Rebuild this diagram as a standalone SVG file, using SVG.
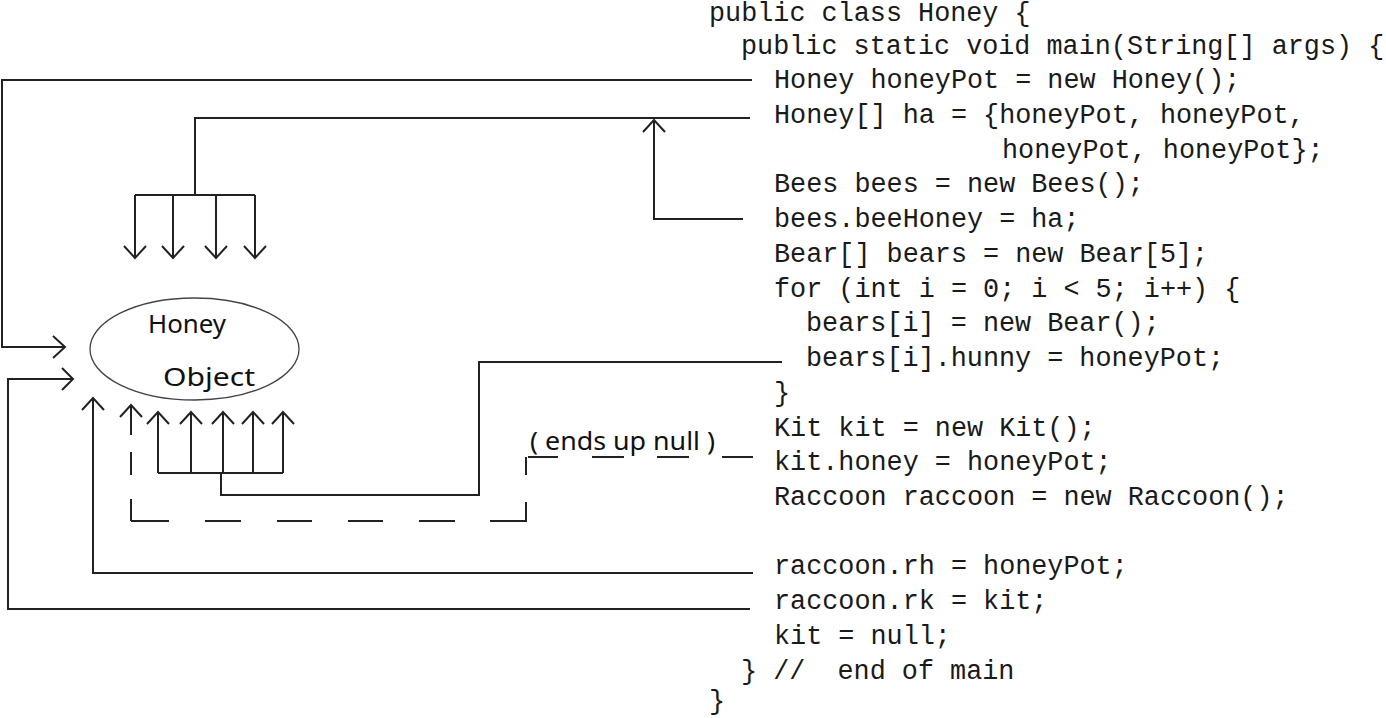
<svg xmlns="http://www.w3.org/2000/svg" width="1386" height="718" viewBox="0 0 1386 718">
<style>
.code{font-family:"Liberation Mono","Courier New",monospace;font-size:26.8px;fill:#1a1a1a}
.hand{font-family:"Comic Sans MS","Noto Sans",sans-serif;font-size:25px;fill:#111}
.ln{fill:none;stroke:#222;stroke-width:2}
</style>
<rect width="1386" height="718" fill="#fff"/>
<g id="code">
<text class="code" x="709" y="21">public class Honey {</text>
<text class="code" x="741" y="54">public static void main(String[] args) {</text>
<text class="code" x="774" y="88">Honey honeyPot = new Honey();</text>
<text class="code" x="774" y="123">Honey[] ha = {honeyPot, honeyPot,</text>
<text class="code" x="1002" y="158">honeyPot, honeyPot};</text>
<text class="code" x="774" y="192">Bees bees = new Bees();</text>
<text class="code" x="774" y="227">bees.beeHoney = ha;</text>
<text class="code" x="774" y="262">Bear[] bears = new Bear[5];</text>
<text class="code" x="774" y="297">for (int i = 0; i &lt; 5; i++) {</text>
<text class="code" x="806" y="331">bears[i] = new Bear();</text>
<text class="code" x="806" y="366">bears[i].hunny = honeyPot;</text>
<text class="code" x="774" y="401">}</text>
<text class="code" x="774" y="436">Kit kit = new Kit();</text>
<text class="code" x="774" y="470">kit.honey = honeyPot;</text>
<text class="code" x="774" y="505">Raccoon raccoon = new Raccoon();</text>
<text class="code" x="774" y="574">raccoon.rh = honeyPot;</text>
<text class="code" x="774" y="609">raccoon.rk = kit;</text>
<text class="code" x="774" y="644">kit = null;</text>
<text class="code" x="741" y="679" xml:space="preserve">} //  end of main</text>
<text class="code" x="709" y="709">}</text>
</g>
<g id="honey-object">
<ellipse cx="194.5" cy="349" rx="104.5" ry="51" fill="none" stroke="#444" stroke-width="1.3"/>
<text class="hand" x="148" y="333" textLength="78" lengthAdjust="spacingAndGlyphs">Honey</text>
<text class="hand" x="163" y="386" textLength="92" lengthAdjust="spacingAndGlyphs">Object</text>
</g>
<g id="label-null">
<text class="hand" x="530" y="450" textLength="185" lengthAdjust="spacingAndGlyphs">( ends up null )</text>
</g>
<g id="connectors">
<polyline class="ln" points="752,80 2,80 2,347 65,347"/>
<polyline class="ln" points="53,336 65,347 53,358"/>
<polyline class="ln" points="750,118 195,118 195,195"/>
<line class="ln" x1="135" y1="195" x2="255" y2="195"/>
<line class="ln" x1="135" y1="195" x2="135" y2="258"/>
<line class="ln" x1="173" y1="195" x2="173" y2="258"/>
<line class="ln" x1="216" y1="195" x2="216" y2="258"/>
<line class="ln" x1="255" y1="195" x2="255" y2="258"/>
<polyline class="ln" points="124,246 135,258 146,246"/>
<polyline class="ln" points="162,246 173,258 184,246"/>
<polyline class="ln" points="205,246 216,258 227,246"/>
<polyline class="ln" points="244,246 255,258 266,246"/>
<polyline class="ln" points="743,219 654,219 654,120"/>
<polyline class="ln" points="643,132 654,120 665,132"/>
<polyline class="ln" points="782,362 479,362 479,495 221,495 221,473"/>
<line class="ln" x1="158" y1="473" x2="283" y2="473"/>
<line class="ln" x1="158" y1="473" x2="158" y2="412"/>
<line class="ln" x1="191" y1="473" x2="191" y2="412"/>
<line class="ln" x1="223" y1="473" x2="223" y2="412"/>
<line class="ln" x1="253" y1="473" x2="253" y2="412"/>
<line class="ln" x1="283" y1="473" x2="283" y2="412"/>
<polyline class="ln" points="147,424 158,412 169,424"/>
<polyline class="ln" points="180,424 191,412 202,424"/>
<polyline class="ln" points="212,424 223,412 234,424"/>
<polyline class="ln" points="242,424 253,412 264,424"/>
<polyline class="ln" points="272,424 283,412 294,424"/>
<line class="ln" x1="528" y1="457" x2="558" y2="457"/>
<line class="ln" x1="592" y1="457" x2="624" y2="457"/>
<line class="ln" x1="657" y1="457" x2="689" y2="457"/>
<line class="ln" x1="722" y1="457" x2="753" y2="457"/>
<line class="ln" x1="526" y1="457" x2="526" y2="475"/>
<line class="ln" x1="526" y1="502" x2="526" y2="522"/>
<line class="ln" x1="131" y1="521" x2="169" y2="521"/>
<line class="ln" x1="205" y1="521" x2="241" y2="521"/>
<line class="ln" x1="277" y1="521" x2="312" y2="521"/>
<line class="ln" x1="348" y1="521" x2="383" y2="521"/>
<line class="ln" x1="419" y1="521" x2="455" y2="521"/>
<line class="ln" x1="490" y1="521" x2="526" y2="521"/>
<line class="ln" x1="131" y1="499" x2="131" y2="521"/>
<line class="ln" x1="131" y1="452" x2="131" y2="475"/>
<line class="ln" x1="131" y1="405" x2="131" y2="435"/>
<polyline class="ln" points="120,417 131,405 142,417"/>
<polyline class="ln" points="753,573 93,573 93,398"/>
<polyline class="ln" points="82,410 93,398 104,410"/>
<polyline class="ln" points="750,609 8,609 8,379 73,379"/>
<polyline class="ln" points="62,368 73,379 62,390"/>
</g>
</svg>
